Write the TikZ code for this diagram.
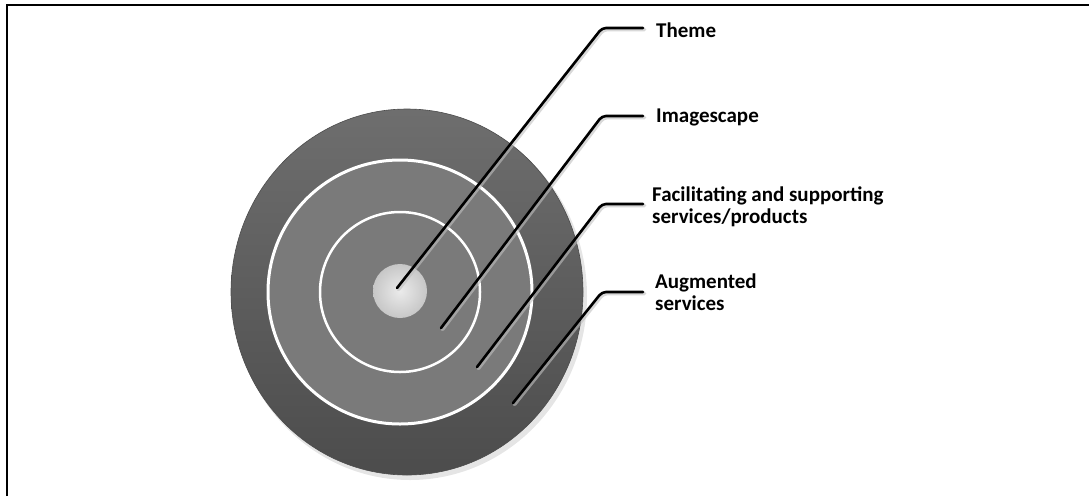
\documentclass[tikz,border=0pt]{standalone}
\usepackage{fontspec}
\setmainfont{Carlito}
\usetikzlibrary{calc}
\definecolor{outerg}{HTML}{5E5E5E}
\definecolor{outerd}{HTML}{4C4C4C}
\definecolor{midg}{HTML}{7A7A7A}
\tikzset{
  lbl/.style={anchor=west, inner sep=0pt, align=left, font=\bfseries\fontsize{21}{22}\selectfont},
  leader/.style={line width=2.6pt, black, rounded corners=4pt, line cap=round},
  leadershadow/.style={line width=3.5pt, black!25, opacity=0.6, rounded corners=4pt, line cap=round},
  ring/.style={draw=white, line width=3pt}
}
\begin{document}
\begin{tikzpicture}[x=1pt,y=-1pt]
\useasboundingbox (0,0) rectangle (1089,496);
\draw[line width=2.3pt] (7,496) -- (7,5) -- (1089,5);
% target
\fill[black!20, opacity=0.5] (410,296) ellipse [x radius=177pt, y radius=184pt];
\shade[top color=outerg!90!white, bottom color=outerd, draw=black!70, line width=0.6pt] (407,292) ellipse [x radius=176pt, y radius=183pt];
\fill[midg] (400,292) circle [radius=132pt];
\draw[ring] (400,292) circle [radius=132pt];
\draw[ring, line width=2.5pt] (400,292) circle [radius=80pt];
\shade[inner color=black!8, outer color=black!22] (400,291) circle [radius=27pt];
% labels
\node[lbl] (theme) at (656,30) {Theme};
\node[lbl] (image) at (656,117) {Imagescape};
\node[lbl] (facil) at (652,207) {Facilitating and supporting\\services/products};
\node[lbl] (augm) at (655,292) {Augmented\\services};
% leader coordinates
\coordinate (s1) at (397,288); \coordinate (k1) at (602,28); \coordinate (e1) at (643,28);
\coordinate (s2) at (441,328); \coordinate (k2) at (602,116); \coordinate (e2) at (643,116);
\coordinate (s3) at (477,367); \coordinate (k3) at (602,204); \coordinate (e3) at (643,204);
\coordinate (s4) at (513,403); \coordinate (k4) at (602,292); \coordinate (e4) at (643,292);
\foreach \i in {1,2,3,4}{
  \draw[leadershadow] ($(s\i)+(1.5,1.5)$) -- ($(k\i)+(1.5,1.5)$) -- ($(e\i)+(1.5,1.5)$);
  \draw[leader] (s\i) -- (k\i) -- (e\i);
}
\end{tikzpicture}
\end{document}
